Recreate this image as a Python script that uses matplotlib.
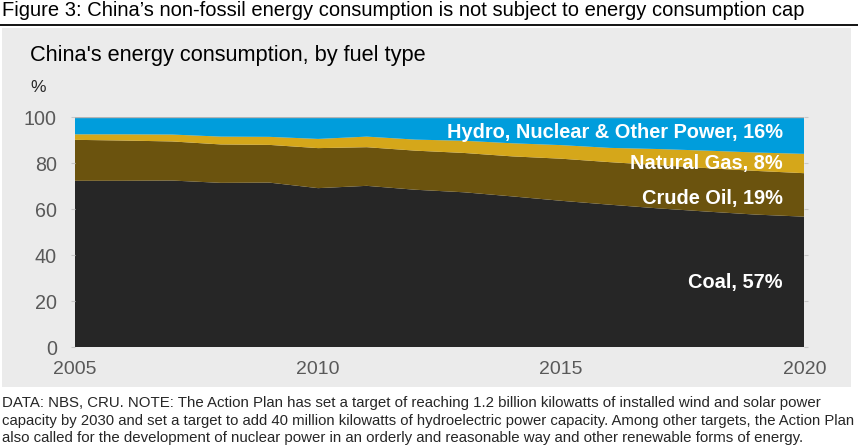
import numpy as np
import matplotlib.pyplot as plt
from matplotlib.patches import Rectangle

# data: share of total energy consumption, %
years = list(range(2005, 2021))
coal = [72.4, 72.4, 72.5, 71.5, 71.6, 69.2, 70.2, 68.5, 67.4, 65.6, 63.7, 62.0, 60.4, 59.0, 57.7, 56.8]
oil = [17.8, 17.5, 17.0, 16.7, 16.4, 17.4, 16.8, 17.0, 17.1, 17.4, 18.3, 18.5, 18.8, 18.9, 19.0, 18.9]
gas = [2.4, 2.7, 3.0, 3.4, 3.5, 4.0, 4.6, 4.8, 5.3, 5.7, 5.9, 6.2, 7.0, 7.6, 8.0, 8.4]
other = [7.4, 7.4, 7.5, 8.4, 8.5, 9.4, 8.4, 9.7, 10.2, 11.3, 12.1, 13.3, 13.8, 14.5, 15.3, 15.9]
labels = ['Coal, 57%', 'Crude Oil, 19%', 'Natural Gas, 8%', 'Hydro, Nuclear & Other Power, 16%']
label_y = [28, 64.5, 80.1, 93.2]
colors = ['#262626', '#6b530e', '#d5a71a', '#009ddc']

plt.rcParams['font.family'] = ['Liberation Sans', 'DejaVu Sans']

fig = plt.figure(figsize=(8.58, 4.47), dpi=100)
renderer = fig.canvas.get_renderer()


def fit_text(x, y, s, width_px, size, **kw):
    # shrink text until it fits the width (no narrow font available)
    t = fig.text(x, y, s, fontsize=size, **kw)
    w = t.get_window_extent(renderer).width
    t.set_fontsize(size * min(1, width_px / w))
    return t


# grey panel behind the chart
fig.patches.append(Rectangle((2/858, 1-387/447), 849/858, 359/447, transform=fig.transFigure,
                             facecolor='#ebebeb', edgecolor='none', zorder=-5))
fig.add_artist(plt.Line2D([0, 1], [1-24.5/447, 1-24.5/447], color='black', lw=1.3))

fit_text(2/858, 1-11/447, "Figure 3: China\u2019s non-fossil energy consumption is not subject to energy consumption cap",
         833, 14.5, va='center', ha='left')
fig.text(30/858, 1-55/447, "China's energy consumption, by fuel type", fontsize=15.7, va='center')
fig.text(30/858, 1-87/447, "%", fontsize=12.5, va='center', color='#262626')

ax = fig.add_axes([75/858, 1-347.3/447, 729.3/858, 230/447])
ax.set_facecolor('none')
ax.stackplot(years, coal, oil, gas, other, colors=colors, lw=0)
ax.axhline(100, color='#b4b4b4', lw=1, zorder=3)
ax.set_xlim(2005, 2020)
ax.set_ylim(0, 100)
ax.set_xticks([2005, 2010, 2015, 2020])
ax.set_yticks(range(0, 101, 20))
for s in ax.spines.values():
    s.set_visible(False)
ax.tick_params(axis='y', length=3, color='#c8c8c8', labelsize=14.2, labelcolor='#595959', pad=10, right=True)
ax.tick_params(axis='x', length=0, labelsize=14, labelcolor='#595959', pad=10)

for lab, y in zip(labels, label_y):
    ax.text(2019.56, y, lab, color='white', fontweight='bold', fontsize=14.4, ha='right', va='center')

note = ["DATA: NBS, CRU. NOTE: The Action Plan has set a target of reaching 1.2 billion kilowatts of installed wind and solar power",
        "capacity by 2030 and set a target to add 40 million kilowatts of hydroelectric power capacity. Among other targets, the Action Plan",
        "also called for the development of nuclear power in an orderly and reasonable way and other renewable forms of energy."]
for i, line in enumerate(note):
    fit_text(2/858, 1-(403+17.5*i)/447, line, 850, 10.8, va='center', color='#262626')

fig.savefig('out.png', dpi=100)
